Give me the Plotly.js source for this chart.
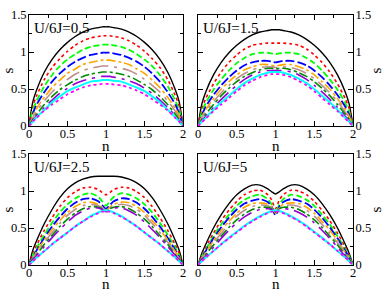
<!DOCTYPE html>
<html><head><meta charset="utf-8">
<script src="https://cdn.plot.ly/plotly-3.0.1.min.js"></script>
<style>html,body{margin:0;padding:0;background:#fff}#plot{width:382px;height:295px}</style>
</head><body><div id="plot"></div>
<script>
// n grid (left half; the curves are symmetric about n = 1)
const nHalf = [0, 0.05, 0.1, 0.2, 0.3, 0.4, 0.5, 0.6, 0.7, 0.8, 0.9, 0.95, 1.0];

const panelLabels = ["U/6J=0.5", "U/6J=1.5", "U/6J=2.5", "U/6J=5"];
const xTickVals = [0, 0.5, 1, 1.5, 2];
const xTickText = ["0", "0.5", "1", "1.5", "2"];
const yTickVals = [0, 0.5, 1, 1.5];
const yTickText = ["0", "0.5", "1", "1.5"];
const xTitle = "n";
const yTitle = "s";

// Panel 1: U/6J = 0.5
const p1_black   = [0, 0.33, 0.49, 0.73, 0.90, 1.03, 1.13, 1.21, 1.27, 1.31, 1.33, 1.34, 1.34];
const p1_red     = [0, 0.27, 0.41, 0.63, 0.79, 0.91, 1.01, 1.09, 1.15, 1.19, 1.21, 1.22, 1.22];
const p1_green   = [0, 0.22, 0.34, 0.54, 0.69, 0.81, 0.90, 0.97, 1.03, 1.07, 1.09, 1.10, 1.10];
const p1_blue    = [0, 0.17, 0.29, 0.46, 0.60, 0.71, 0.80, 0.87, 0.92, 0.96, 0.98, 0.99, 0.99];
const p1_orange  = [0, 0.14, 0.24, 0.39, 0.52, 0.62, 0.71, 0.77, 0.83, 0.86, 0.88, 0.89, 0.89];
const p1_brown   = [0, 0.11, 0.20, 0.34, 0.46, 0.55, 0.63, 0.70, 0.75, 0.78, 0.80, 0.81, 0.81];
const p1_green4  = [0, 0.09, 0.16, 0.29, 0.40, 0.49, 0.56, 0.62, 0.67, 0.70, 0.72, 0.73, 0.73];
const p1_violet  = [0, 0.07, 0.14, 0.25, 0.35, 0.44, 0.51, 0.57, 0.61, 0.64, 0.66, 0.67, 0.67];
const p1_cyan    = [0, 0.06, 0.12, 0.22, 0.32, 0.40, 0.47, 0.52, 0.56, 0.60, 0.61, 0.62, 0.62];
const p1_magenta = [0, 0.06, 0.11, 0.21, 0.29, 0.36, 0.43, 0.48, 0.52, 0.55, 0.56, 0.57, 0.57];

// Panel 2: U/6J = 1.5
const p2_black   = [0, 0.30, 0.46, 0.69, 0.86, 0.99, 1.09, 1.17, 1.23, 1.27, 1.29, 1.30, 1.30];
const p2_red     = [0, 0.24, 0.37, 0.57, 0.73, 0.86, 0.96, 1.04, 1.09, 1.11, 1.12, 1.12, 1.12];
const p2_green   = [0, 0.19, 0.31, 0.49, 0.63, 0.75, 0.85, 0.92, 0.97, 0.99, 0.99, 0.98, 0.97];
const p2_blue    = [0, 0.15, 0.26, 0.42, 0.55, 0.66, 0.75, 0.82, 0.86, 0.88, 0.88, 0.87, 0.86];
const p2_orange  = [0, 0.13, 0.22, 0.37, 0.50, 0.60, 0.69, 0.76, 0.80, 0.83, 0.83, 0.82, 0.81];
const p2_brown   = [0, 0.11, 0.19, 0.33, 0.45, 0.55, 0.64, 0.71, 0.76, 0.79, 0.80, 0.80, 0.79];
const p2_green4  = [0, 0.09, 0.16, 0.29, 0.41, 0.51, 0.60, 0.67, 0.72, 0.76, 0.78, 0.78, 0.77];
const p2_violet  = [0, 0.07, 0.13, 0.25, 0.36, 0.46, 0.55, 0.63, 0.69, 0.73, 0.75, 0.75, 0.75];
const p2_cyan    = [0, 0.06, 0.11, 0.22, 0.32, 0.41, 0.50, 0.58, 0.64, 0.69, 0.72, 0.73, 0.73];
const p2_magenta = [0, 0.05, 0.10, 0.20, 0.29, 0.38, 0.47, 0.55, 0.61, 0.66, 0.69, 0.70, 0.70];

// Panel 3: U/6J = 2.5
const p3_black   = [0, 0.20, 0.33, 0.56, 0.75, 0.91, 1.03, 1.11, 1.16, 1.19, 1.20, 1.20, 1.20];
const p3_red     = [0, 0.16, 0.27, 0.47, 0.64, 0.79, 0.91, 0.99, 1.04, 1.05, 1.02, 0.98, 0.95];
const p3_green   = [0, 0.13, 0.23, 0.41, 0.57, 0.71, 0.82, 0.90, 0.95, 0.97, 0.92, 0.86, 0.80];
const p3_blue    = [0, 0.11, 0.20, 0.37, 0.52, 0.65, 0.76, 0.84, 0.89, 0.90, 0.86, 0.81, 0.76];
const p3_orange  = [0, 0.10, 0.18, 0.34, 0.48, 0.60, 0.71, 0.79, 0.84, 0.85, 0.82, 0.78, 0.74];
const p3_brown   = [0, 0.09, 0.16, 0.31, 0.44, 0.56, 0.67, 0.75, 0.80, 0.82, 0.80, 0.77, 0.73];
const p3_green4  = [0, 0.08, 0.14, 0.28, 0.40, 0.52, 0.62, 0.70, 0.76, 0.79, 0.78, 0.76, 0.73];
const p3_violet  = [0, 0.07, 0.13, 0.25, 0.37, 0.48, 0.58, 0.67, 0.73, 0.77, 0.77, 0.75, 0.72];
const p3_cyan    = [0, 0.05, 0.10, 0.19, 0.28, 0.36, 0.44, 0.52, 0.59, 0.66, 0.71, 0.73, 0.74];
const p3_magenta = [0, 0.05, 0.10, 0.19, 0.28, 0.36, 0.44, 0.52, 0.59, 0.65, 0.70, 0.72, 0.72];

// Panel 4: U/6J = 5
const p4_black   = [0, 0.16, 0.28, 0.50, 0.68, 0.83, 0.95, 1.03, 1.08, 1.08, 1.03, 0.99, 0.96];
const p4_red     = [0, 0.13, 0.24, 0.43, 0.60, 0.74, 0.86, 0.95, 1.00, 1.01, 0.95, 0.88, 0.76];
const p4_green   = [0, 0.12, 0.21, 0.39, 0.55, 0.68, 0.80, 0.88, 0.93, 0.95, 0.89, 0.82, 0.70];
const p4_blue    = [0, 0.11, 0.19, 0.36, 0.51, 0.64, 0.75, 0.83, 0.87, 0.89, 0.85, 0.79, 0.67];
const p4_orange  = [0, 0.10, 0.17, 0.33, 0.47, 0.59, 0.70, 0.78, 0.83, 0.84, 0.82, 0.78, 0.70];
const p4_brown   = [0, 0.09, 0.16, 0.30, 0.43, 0.55, 0.66, 0.74, 0.79, 0.81, 0.80, 0.77, 0.72];
const p4_green4  = [0, 0.08, 0.14, 0.27, 0.39, 0.51, 0.61, 0.69, 0.75, 0.78, 0.78, 0.76, 0.72];
const p4_violet  = [0, 0.07, 0.12, 0.24, 0.36, 0.47, 0.57, 0.65, 0.71, 0.75, 0.76, 0.75, 0.72];
const p4_cyan    = [0, 0.05, 0.10, 0.19, 0.28, 0.37, 0.45, 0.53, 0.60, 0.66, 0.71, 0.73, 0.74];
const p4_magenta = [0, 0.05, 0.10, 0.19, 0.28, 0.36, 0.44, 0.52, 0.59, 0.65, 0.70, 0.72, 0.72];

const panels = [
  [p1_black, p1_red, p1_green, p1_blue, p1_orange, p1_brown, p1_green4, p1_violet, p1_cyan, p1_magenta],
  [p2_black, p2_red, p2_green, p2_blue, p2_orange, p2_brown, p2_green4, p2_violet, p2_cyan, p2_magenta],
  [p3_black, p3_red, p3_green, p3_blue, p3_orange, p3_brown, p3_green4, p3_violet, p3_cyan, p3_magenta],
  [p4_black, p4_red, p4_green, p4_blue, p4_orange, p4_brown, p4_green4, p4_violet, p4_cyan, p4_magenta]
];

const styles = [
  {color: "#000000", dash: "solid", width: 1.4},
  {color: "#ff0000", dash: "dot", width: 1.6},
  {color: "#00ff00", dash: "6px,3px", width: 1.8},
  {color: "#0000ff", dash: "9px,3px", width: 1.8},
  {color: "#ffa500", dash: "dashdot", width: 1.6},
  {color: "#bc8f8f", dash: "longdashdot", width: 1.6},
  {color: "#008b00", dash: "dashdot", width: 1.6},
  {color: "#9400d3", dash: "longdashdot", width: 1.6},
  {color: "#00ffff", dash: "solid", width: 2},
  {color: "#ff00ff", dash: "dot", width: 1.8}
];

function mirrorX(h) {
  const right = h.slice(0, -1).reverse().map(v => +(2 - v).toFixed(4));
  return h.concat(right);
}
function mirrorY(h) {
  return h.concat(h.slice(0, -1).reverse());
}

const traces = [];
panels.forEach((series, pi) => {
  const xa = pi === 0 ? "x" : "x" + (pi + 1);
  const ya = pi === 0 ? "y" : "y" + (pi + 1);
  series.forEach((vals, si) => {
    traces.push({
      x: mirrorX(nHalf), y: mirrorY(vals),
      xaxis: xa, yaxis: ya, type: "scatter", mode: "lines",
      line: {color: styles[si].color, dash: styles[si].dash, width: styles[si].width, shape: "spline", smoothing: 0.7},
      showlegend: false, hoverinfo: "skip"
    });
  });
});

const W = 382, H = 295;
const xdomL = [29 / W, 183 / W], xdomR = [198 / W, 353 / W];
const ydomT = [1 - 126 / H, 1 - 15 / H], ydomB = [1 - 265 / H, 1 - 154 / H];
const serif = "Liberation Serif, Times New Roman, serif";
const tickFont = {family: serif, size: 12.5, color: "#000"};
const titleFont = {family: serif, size: 15, color: "#000"};

function xaxis(dom, anchor) {
  return {
    domain: dom, anchor: anchor, range: [0, 2], showgrid: false, zeroline: false,
    showline: true, linecolor: "#000", linewidth: 1, mirror: "ticks",
    ticks: "inside", ticklen: 5, tickwidth: 1, tickcolor: "#000",
    tickmode: "array", tickvals: xTickVals, ticktext: xTickText, tickfont: tickFont,
    ticklabelstandoff: -4,
    minor: {ticks: "inside", ticklen: 3, tickwidth: 1, tickcolor: "#000", dtick: 0.25, tick0: 0},
    automargin: false
  };
}
function yaxis(dom, anchor, side) {
  return {
    domain: dom, anchor: anchor, side: side, range: [0, 1.5], showgrid: false, zeroline: false,
    showline: true, linecolor: "#000", linewidth: 1, mirror: "ticks",
    ticks: "inside", ticklen: 5, tickwidth: 1, tickcolor: "#000",
    tickmode: "array", tickvals: yTickVals, ticktext: yTickText, tickfont: tickFont,
    ticklabelstandoff: -1,
    minor: {ticks: "inside", ticklen: 3, tickwidth: 1, tickcolor: "#000", dtick: 0.25, tick0: 0},
    automargin: false
  };
}

const annotations = panelLabels.map((t, i) => ({
  xref: (i === 0 ? "x" : "x" + (i + 1)) + " domain",
  yref: (i === 0 ? "y" : "y" + (i + 1)) + " domain",
  x: 0.02, y: 0.97, xanchor: "left", yanchor: "top", showarrow: false,
  text: t, font: {family: serif, size: 15, color: "#000"}
}));
// axis titles
const xCenters = [106 / W, 275.5 / W];
const yTopN = 1 - 145.5 / H, yBotN = 1 - 284 / H;
[[xCenters[0], yTopN], [xCenters[1], yTopN], [xCenters[0], yBotN], [xCenters[1], yBotN]].forEach(([x, y]) => {
  annotations.push({xref: "paper", yref: "paper", x: x, y: y, xanchor: "center", yanchor: "middle",
    showarrow: false, borderpad: 0, text: xTitle, font: titleFont});
});
[[7 / W, 1 - 70.5 / H], [375 / W, 1 - 70.5 / H], [7 / W, 1 - 209.5 / H], [375 / W, 1 - 209.5 / H]].forEach(([x, y]) => {
  annotations.push({xref: "paper", yref: "paper", x: x, y: y, xanchor: "center", yanchor: "middle",
    showarrow: false, borderpad: 0, text: yTitle, textangle: -90, font: titleFont});
});

const layout = {
  width: W, height: H, margin: {l: 0, r: 0, t: 0, b: 0},
  paper_bgcolor: "#fff", plot_bgcolor: "#fff", showlegend: false,
  xaxis: xaxis(xdomL, "y"), yaxis: yaxis(ydomT, "x", "left"),
  xaxis2: xaxis(xdomR, "y2"), yaxis2: yaxis(ydomT, "x2", "right"),
  xaxis3: xaxis(xdomL, "y3"), yaxis3: yaxis(ydomB, "x3", "left"),
  xaxis4: xaxis(xdomR, "y4"), yaxis4: yaxis(ydomB, "x4", "right"),
  annotations: annotations
};

Plotly.newPlot("plot", traces, layout, {staticPlot: true, displayModeBar: false});
</script>
</body></html>
